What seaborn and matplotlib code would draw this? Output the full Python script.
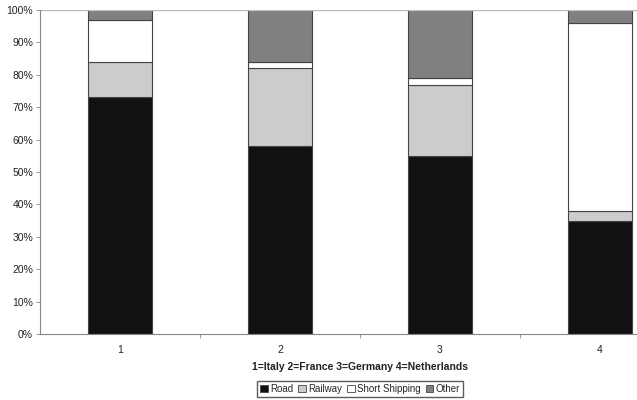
import numpy as np
import matplotlib
matplotlib.use("Agg")
import matplotlib.pyplot as plt
import seaborn as sns
from matplotlib.patches import Patch

# data (percent share per country)
countries = ["1", "2", "3", "4"]
road = [73, 58, 55, 35]
railway = [11, 24, 22, 3]
short_shipping = [13, 2, 2, 58]
other = [3, 16, 21, 4]

series = [("Road", road, "#111111"),
          ("Railway", railway, "#cccccc"),
          ("Short Shipping", short_shipping, "#ffffff"),
          ("Other", other, "#808080")]

sns.set_style("white")
plt.rcParams["font.family"] = ["Liberation Sans", "DejaVu Sans"]

fig = plt.figure(figsize=(6.37, 4.0), dpi=100)
ax = fig.add_axes([40 / 637, 66 / 400, 640 / 637, 324 / 400])

bottom = np.zeros(len(countries))
for name, vals, col in series:
    sns.barplot(x=countries, y=vals, bottom=bottom, color=col, width=0.4,
                edgecolor="#444444", linewidth=0.8, saturation=1, ax=ax)
    bottom = bottom + np.array(vals)

ax.set_xlim(-0.5, 3.5)
ax.set_ylim(0, 100)
ax.set_yticks(range(0, 101, 10))
ax.set_yticklabels([f"{v}%" for v in range(0, 101, 10)], fontsize=7.5, color="#222222")
ax.tick_params(axis="x", labelsize=7.5, length=0, pad=8, colors="#222222")
ax.tick_params(axis="y", length=3, width=0.6, color="#888888", direction="out", pad=2, left=True)
ax.set_xticks([0.5, 1.5, 2.5], minor=True)
ax.tick_params(axis="x", which="minor", length=3, width=0.6, color="#888888", bottom=True)
ax.axhline(100, color="#bbbbbb", lw=1)
for s in ["top", "right"]:
    ax.spines[s].set_visible(False)
for s in ["left", "bottom"]:
    ax.spines[s].set_color("#888888")
    ax.spines[s].set_linewidth(0.8)

ax.set_xlabel("1=Italy 2=France 3=Germany 4=Netherlands", fontsize=7.5,
              fontweight="bold", labelpad=5, color="#222222")
ax.set_ylabel("")

handles = [Patch(facecolor=c, edgecolor="#444444", linewidth=0.6, label=n) for n, _, c in series]
fig.legend(handles=handles, loc="center", bbox_to_anchor=(360 / 637, 1 - 389 / 400),
           ncol=4, fontsize=7, frameon=True, fancybox=False, edgecolor="#333333",
           handlelength=0.8, handleheight=0.8, handletextpad=0.25, columnspacing=0.5,
           borderpad=0.3)

fig.savefig("out.png", dpi=100)
